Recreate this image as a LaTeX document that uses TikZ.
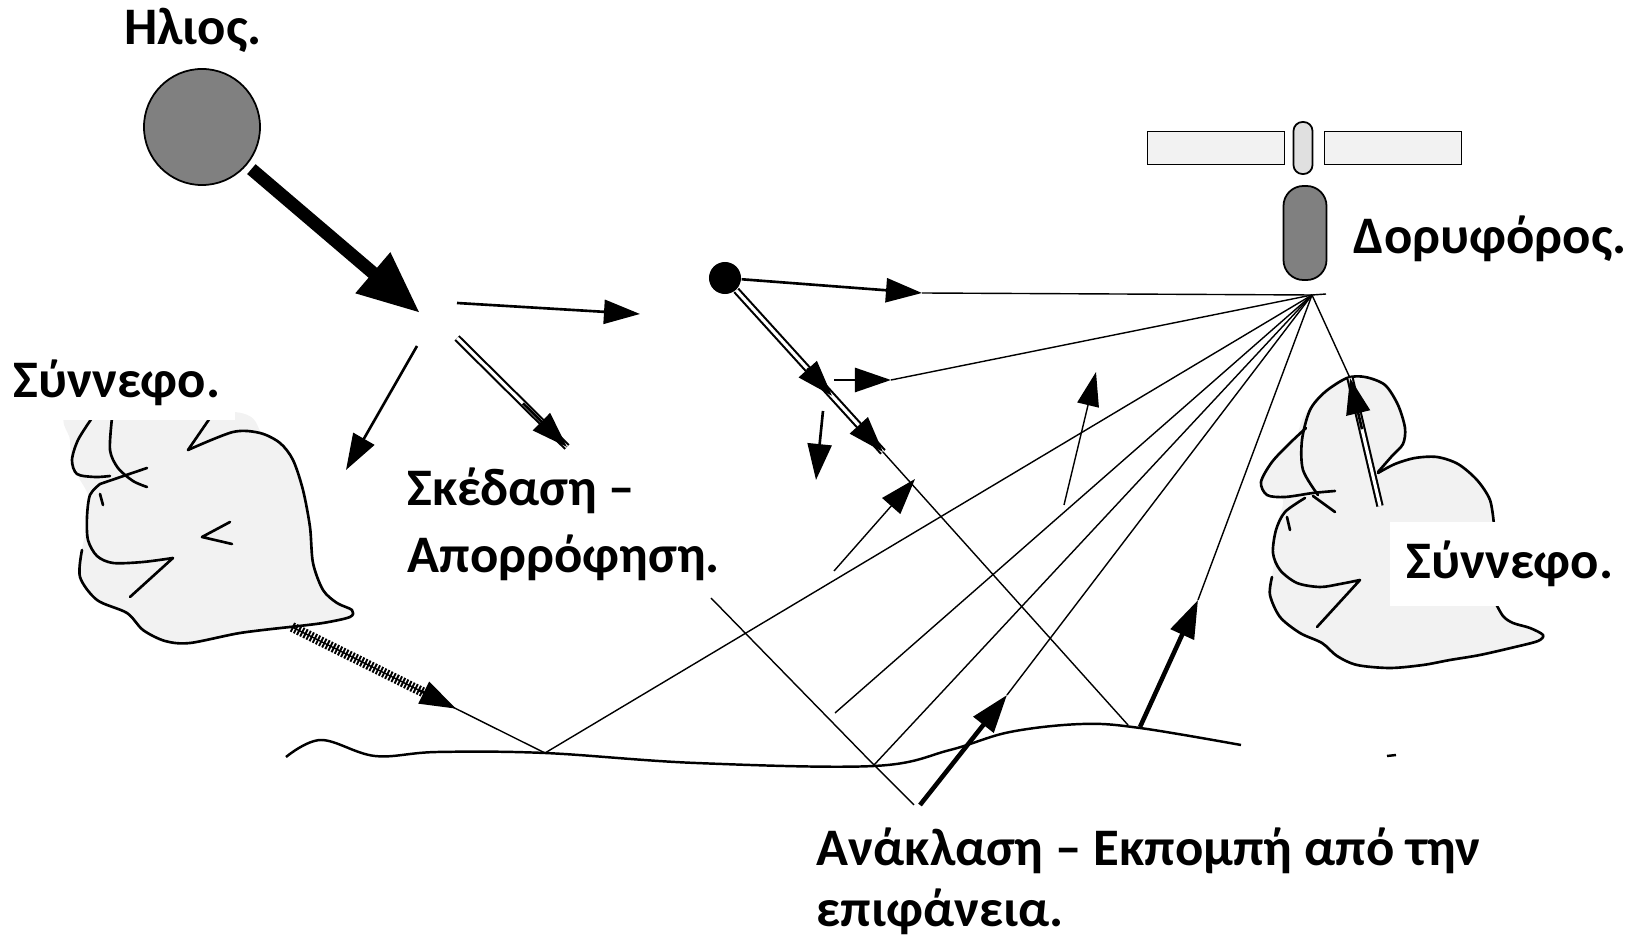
\documentclass[tikz,border=0pt]{standalone}
\usepackage{fontspec}
\setmainfont{Carlito}
\usepackage{tikz}
\usetikzlibrary{arrows.meta,calc}

\tikzset{
  lbl/.style={font=\fontsize{15}{19}\selectfont\bfseries, inner sep=0pt},
  ray/.style={line width=0.4pt},
  arr/.style={line width=0.75pt, -{Triangle[length=0.36cm,width=0.24cm]}},
  fatarr/.style={line width=1.3pt, -{Triangle[length=0.38cm,width=0.25cm]}},
  sunray/.style={line width=3.7pt, -{Triangle[length=0.62cm,width=0.5cm]}, shorten <=0.06cm},
  dbl/.style={line width=0.6pt, double=white, double distance=0.9pt},
  hatch/.style={line width=2.8pt, dash pattern=on 0.55pt off 0.45pt},
  cloudfill/.style={fill=black!5},
  cloudline/.style={line width=0.75pt, line join=round, line cap=round},
  ground/.style={line width=0.7pt},
  sunball/.style={circle, draw, fill=black!50, line width=0.5pt, minimum size=1.16cm, inner sep=0pt},
  panel/.style={draw, fill=black!5, line width=0.5pt, minimum width=1.37cm, minimum height=0.33cm, inner sep=0pt},
  mast/.style={draw, fill=black!12, line width=0.5pt, minimum width=0.19cm, minimum height=0.52cm, rounded corners=0.09cm, inner sep=0pt},
  satbody/.style={draw, fill=black!50, line width=0.5pt, minimum width=0.43cm, minimum height=0.94cm, rounded corners=0.2cm, inner sep=0pt},
}

\begin{document}
\begin{tikzpicture}[x=0.01cm,y=-0.01cm]
\useasboundingbox (0,0) rectangle (1644,937);

%% left cloud
\fill[cloudfill] plot[smooth cycle] coordinates {(75,412) (235,412) (262,433) (282,445) (295,462) (304,492) (310,527) (313,563) (323,590) (337,603) (352,611) (348,618) (322,623) (290,628) (233,634) (187,643) (158,639) (140,627) (125,613) (97,601) (81,578) (82,550) (88,520) (88,495) (75,470) (70,440)};
\draw[cloudline] (210,418) -- (188,450);
\draw[cloudline] plot[smooth] coordinates {(188,450) (233,432) (260,433) (280,443) (293,460) (303,490) (310,527) (313,563) (323,590) (337,603) (352,610) (350,617) (323,623) (290,627)};
\draw[cloudline] plot[smooth] coordinates {(82,550) (80,577) (97,600) (127,613) (143,630) (165,641) (190,643) (240,633) (290,627)};
\draw[cloudline] plot[smooth] coordinates {(100,484) (90,495) (87,517) (88,540) (97,556) (113,563) (143,562) (173,558)} -- (130,597);
\draw[cloudline] plot[smooth] coordinates {(92,418) (78,440) (72,460) (77,474) (95,477) (110,476)};
\draw[cloudline] (100,484) -- (147,468);
\draw[cloudline] plot[smooth] coordinates {(112,418) (110,450) (118,468) (133,481) (147,487)};
\draw[cloudline] (100,494) -- (103,505);
\draw[cloudline] (230,522) -- (202,537) -- (232,544);
\node[lbl, fill=white, minimum width=2.35cm, minimum height=0.74cm] (cloudLlbl) at (117,383) {Σύννεφο.};

%% right cloud
\fill[cloudfill] plot[smooth cycle] coordinates {(1347,378) (1383,383) (1400,405) (1405,430) (1400,447) (1385,465) (1413,458) (1440,456) (1460,464) (1478,480) (1490,500) (1494,525) (1494,560) (1494,600) (1503,617) (1527,628) (1542,634) (1537,642) (1500,650) (1450,660) (1420,665) (1390,668) (1357,665) (1337,657) (1320,643) (1298,632) (1280,617) (1270,593) (1272,577) (1275,553) (1275,530) (1283,500) (1262,490) (1262,475) (1275,458) (1295,440) (1302,420) (1315,400) (1330,386)};
\draw[cloudline] plot[smooth] coordinates {(1318,495) (1303,470) (1302,440) (1310,410) (1325,392) (1347,378) (1365,377) (1385,385) (1398,405) (1405,428) (1403,444) (1392,456) (1378,472)};
\draw[cloudline] plot[smooth] coordinates {(1378,473) (1395,464) (1415,458) (1437,457) (1458,464) (1477,480) (1490,500) (1494,525)};
\draw[cloudline] plot[smooth] coordinates {(1306,428) (1290,443) (1272,462) (1261,482) (1267,495) (1285,497) (1313,493) (1335,491)};
\draw[cloudline] (1313,496) -- (1335,512);
\draw[cloudline] (1287,517) -- (1290,530);
\draw[cloudline] plot[smooth] coordinates {(1305,498) (1285,512) (1276,530) (1273,553) (1280,570) (1297,583) (1320,587) (1340,584) (1360,580)} -- (1317,627);
\draw[cloudline] plot[smooth] coordinates {(1272,577) (1270,595) (1280,617) (1300,633) (1322,643) (1337,656) (1357,665) (1390,668) (1423,665) (1450,660) (1480,655) (1515,647) (1538,641) (1543,635) (1530,628) (1513,623) (1503,616) (1494,600)};
\node[lbl, fill=white, minimum width=2.4cm, minimum height=0.84cm] (cloudRlbl) at (1510,564) {Σύννεφο.};

%% ground
\draw[ground] plot[smooth, tension=0.6] coordinates {(286,757) (321,740) (375,756) (437,752) (545,753) (696,763) (874,766) (950,750) (1010,732) (1082,724) (1140,728) (1241,745)};
\draw[ground] (1387,756) -- (1396,755);

%% points
\coordinate (sc) at (420,313);
\coordinate (e0) at (457,303);
\coordinate (e1) at (640,314);
\coordinate (se0) at (457,338);
\coordinate (se1) at (567,447);
\coordinate (sw0) at (417,346);
\coordinate (sw1) at (346,470);
\coordinate (sat) at (1312,295);
\coordinate (d1) at (922,293);
\coordinate (f1) at (883,452);
\coordinate (f2) at (1128,725);
\coordinate (k0) at (834,380);
\coordinate (k1) at (891,380);
\coordinate (m0) at (823,411);
\coordinate (m1) at (816,480);
\coordinate (n0) at (834,571);
\coordinate (n1) at (915,479);
\coordinate (h0) at (292,627);
\coordinate (p1) at (545,753);
\coordinate (g0) at (835,713);
\coordinate (c0) at (711,598);
\coordinate (p2) at (874,765);
\coordinate (c1) at (914,805);
\coordinate (t0) at (920,805);
\coordinate (t1) at (1007,695);
\coordinate (u0) at (1140,727);
\coordinate (u1) at (1198,600);
\coordinate (q0) at (1064,505);
\coordinate (q1) at (1096,372);
\coordinate (v0) at (1380,506);
\coordinate (v1) at (1350,378);

%% sun
\node[sunball] (sun) at (202,127) {};
\node[lbl] (sunlbl) at (193,30) {Ηλιος.};
\draw[sunray] (sun) -- (sc);

%% scattering
\draw[arr] (e0) -- (e1);
\draw[arr] (sw0) -- (sw1);
\draw[dbl] (se0) -- (se1);
\draw[arr] ($(se0)!0.6!(se1)$) -- (se1);
\node[lbl, align=left, anchor=west] (scatlbl) at (407,524) {Σκέδαση –\\Απορρόφηση.};

%% particle
\node[circle, fill=black, minimum size=0.32cm, inner sep=0pt] (dot) at (725,278) {};
\draw[arr] (dot) -- (d1);
\draw[ray] (d1) -- (sat);
\draw[dbl] (dot) -- (f1);
\draw[arr] ($(dot)!0.52!(f1)$) -- ($(dot)!0.677!(f1)$);
\draw[arr] ($(dot)!0.85!(f1)$) -- (f1);
\draw[ray] (f1) -- (f2);
\draw[arr] (k0) -- (k1);
\draw[ray] (k1) -- (sat);
\draw[arr] (m0) -- (m1);
\draw[ray, -{Triangle[length=0.36cm,width=0.24cm]}] (n0) -- (n1);
\draw[ray, -{Triangle[length=0.34cm,width=0.22cm]}] (q0) -- (q1);

%% reflection from the surface
\draw[ray] (h0) -- (p1);
\draw[hatch] (h0) -- ($(h0)!0.55!(p1)$);
\draw[arr] ($(h0)!0.5!(p1)$) -- ($(h0)!0.648!(p1)$);
\draw[ray] (p1) -- (sat);
\draw[ray] (g0) -- (sat);
\draw[ray] (c0) -- (p2) -- (c1);
\draw[ray] (p2) -- (sat);
\draw[fatarr] (t0) -- (t1);
\draw[ray] (t1) -- (sat);
\draw[fatarr] (u0) -- (u1);
\draw[ray] (u1) -- (sat);
\draw[dbl] (v0) -- (v1);
\draw[arr] ($(v0)!0.6!(v1)$) -- (v1);
\draw[ray] (v1) -- (sat);
\node[lbl, font=\fontsize{15}{17.3}\selectfont\bfseries, align=left, anchor=west] (refllbl) at (816,881) {Ανάκλαση – Εκπομπή από την\\επιφάνεια.};

%% satellite
\node[panel] (lpanel) at (1216,148) {};
\node[panel] (rpanel) at (1393,148) {};
\node[mast] (mast) at (1303,148) {};
\node[satbody] (sbody) at (1305,233) {};
\draw[ray] (sat) -- ++(14,-1);
\node[lbl, anchor=west] (satlbl) at (1353,239) {Δορυφόρος.};
\end{tikzpicture}
\end{document}
